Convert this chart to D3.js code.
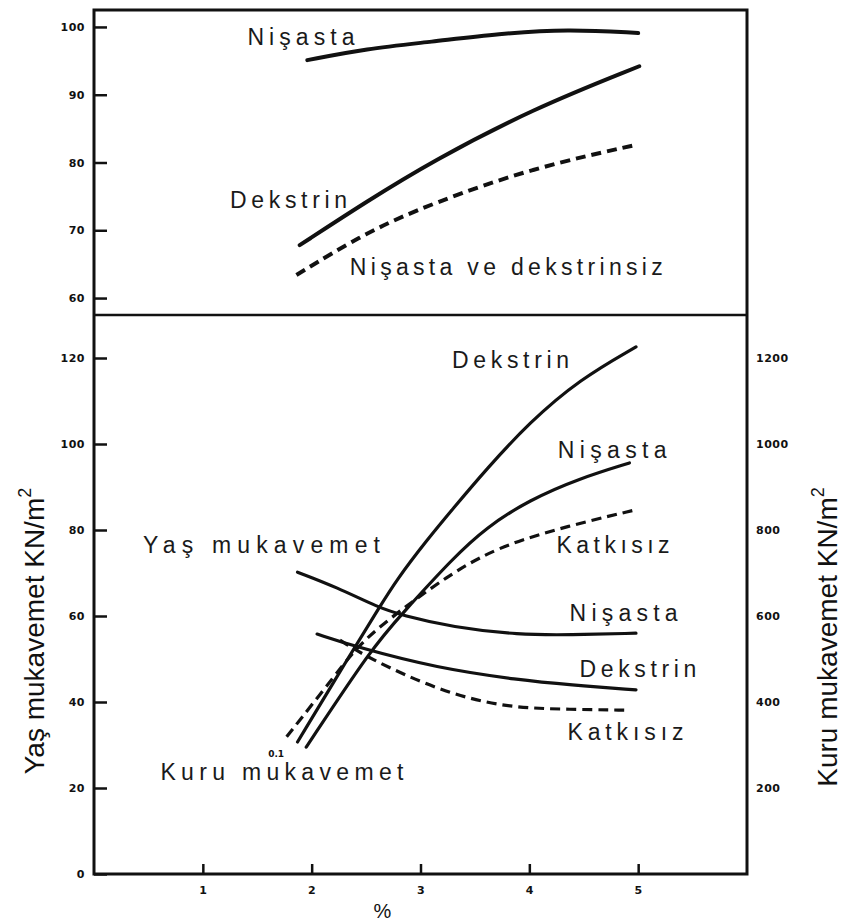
<!DOCTYPE html>
<html><head><meta charset="utf-8">
<script src="https://cdn.jsdelivr.net/npm/d3@7"></script>
<style>body{margin:0;background:#fff}svg{display:block}</style>
</head><body>
<svg id="c" width="845" height="923"></svg>
<script>
// ---- tick labels ----
const xTicks = [1, 2, 3, 4, 5];
const topTicks = [60, 70, 80, 90, 100];
const leftTicks = [0, 20, 40, 60, 80, 100, 120];
const rightTicks = [200, 400, 600, 800, 1000, 1200];

// ---- top panel series: [%, value] ----
const topNisasta = [[1.96, 95.1], [2.5, 96.8], [3.1, 97.8], [3.72, 99.0], [4.35, 99.7], [5.0, 99.1]];
const topDekstrin = [[1.89, 67.8], [2.5, 74.2], [3.11, 80.2], [4.03, 87.9], [5.01, 94.2]];
const topKatkisiz = [[1.86, 63.4], [2.5, 69.7], [3.11, 74.0], [4.03, 79.2], [4.98, 82.6]];

// ---- bottom panel: Kuru mukavemet (right axis) ----
const kuruDekstrin = [[1.87, 307], [2.38, 521], [2.62, 619], [2.78, 684], [3.06, 777], [3.3, 850], [3.6, 940], [4.0, 1050], [4.46, 1150], [4.98, 1226]];
const kuruNisasta = [[1.95, 295], [2.56, 528], [2.83, 605], [3.3, 735], [3.6, 805], [4.0, 870], [4.46, 920], [4.92, 956]];
const kuruKatkisiz = [[1.77, 319], [2.23, 467], [2.47, 545], [2.93, 635], [3.24, 690], [3.54, 737], [3.91, 777], [4.46, 816], [4.98, 847]];

// ---- bottom panel: Yaş mukavemet (left axis) ----
const yasNisasta = [[1.87, 70.2], [2.23, 66.7], [2.62, 61.9], [2.83, 60.2], [3.29, 57.4], [3.91, 55.6], [4.37, 55.6], [4.98, 56.0]];
const yasDekstrin = [[2.05, 55.8], [2.41, 52.8], [3.15, 47.9], [3.91, 45.1], [4.37, 44.0], [4.98, 42.8]];
const yasKatkisiz = [[2.26, 54.4], [2.5, 50.5], [3.15, 42.8], [3.75, 38.8], [4.3, 38.3], [4.92, 38.1]];

const svg = d3.select("#c");
const L = 94, R = 747, T = 10, MID = 315, B = 874;

const x = d3.scaleLinear([0, 6], [L, R]);
const yTop = d3.scaleLinear([57.5, 102.5], [MID, T]);
const yLeft = d3.scaleLinear([0, 130], [B, MID]);
const yRight = d3.scaleLinear([0, 1300], [B, MID]);

const fmt = d3.format("d");
const tickFont = g => g.selectAll("text")
  .attr("font-family", "'DejaVu Sans', sans-serif")
  .attr("font-weight", "bold").attr("font-size", 11)
  .attr("letter-spacing", 0.5).attr("fill", "#111");

// frame
svg.append("rect").attr("x", L).attr("y", T).attr("width", R - L).attr("height", B - T)
  .attr("fill", "none").attr("stroke", "#111").attr("stroke-width", 3);
svg.append("line").attr("x1", L).attr("x2", R).attr("y1", MID).attr("y2", MID)
  .attr("stroke", "#111").attr("stroke-width", 2.5);

// axes
const axTop = svg.append("g").attr("transform", `translate(${L},0)`)
  .call(d3.axisLeft(yTop).tickValues(topTicks).tickFormat(fmt).tickSize(-13).tickPadding(9));
const axLeft = svg.append("g").attr("transform", `translate(${L},0)`)
  .call(d3.axisLeft(yLeft).tickValues(leftTicks).tickFormat(fmt).tickSize(-13).tickPadding(9));
const axRight = svg.append("g").attr("transform", `translate(${R},0)`)
  .call(d3.axisRight(yRight).tickValues(rightTicks).tickFormat(fmt).tickSize(0).tickPadding(9));
const axX = svg.append("g").attr("transform", `translate(0,${B})`)
  .call(d3.axisBottom(x).tickValues(xTicks).tickFormat(fmt).tickSize(-10).tickPadding(12));
[axTop, axLeft, axRight, axX].forEach(a => {
  a.select(".domain").remove();
  a.selectAll(".tick line").attr("stroke", "#111").attr("stroke-width", 2.5);
  a.call(tickFont);
});

// curves
function draw(data, yScale, dashed, w) {
  const line = d3.line().x(d => x(d[0])).y(d => yScale(d[1])).curve(d3.curveBasis);
  svg.append("path").datum(data).attr("d", line)
    .attr("fill", "none").attr("stroke", "#111").attr("stroke-width", w)
    .attr("stroke-linecap", dashed ? "butt" : "round")
    .attr("stroke-dasharray", dashed ? "10,6" : null);
}
draw(topNisasta, yTop, false, 4);
draw(topDekstrin, yTop, false, 4);
draw(topKatkisiz, yTop, true, 4);
draw(kuruDekstrin, yRight, false, 3.2);
draw(kuruNisasta, yRight, false, 3.2);
draw(kuruKatkisiz, yRight, true, 3.2);
draw(yasNisasta, yLeft, false, 3.2);
draw(yasDekstrin, yLeft, false, 3.2);
draw(yasKatkisiz, yLeft, true, 3.2);

// curve labels (anchored in data units)
const topLabels = [
  {t: "Nişasta", x: 1.41, y: 97.3, w: 107},
  {t: "Dekstrin", x: 1.25, y: 73.3, w: 117},
  {t: "Nişasta ve dekstrinsiz", x: 2.35, y: 63.4, w: 313}
];
const bottomLabels = [
  {t: "Dekstrin", x: 3.29, y: 117.7, w: 117},
  {t: "Nişasta", x: 4.26, y: 96.7, w: 109},
  {t: "Katkısız", x: 4.25, y: 74.7, w: 113},
  {t: "Yaş mukavemet", x: 0.45, y: 74.7, w: 237},
  {t: "Nişasta", x: 4.37, y: 58.8, w: 108},
  {t: "Dekstrin", x: 4.46, y: 45.8, w: 117},
  {t: "Katkısız", x: 4.35, y: 31.2, w: 116},
  {t: "Kuru mukavemet", x: 0.61, y: 21.9, w: 243}
];
function labels(arr, yScale) {
  svg.append("g").selectAll("text").data(arr).join("text")
    .attr("x", d => x(d.x)).attr("y", d => yScale(d.y))
    .attr("textLength", d => d.w).attr("lengthAdjust", "spacing")
    .attr("font-family", "'Liberation Sans', Arial, sans-serif")
    .attr("font-size", 23).attr("fill", "#1a1a1a").text(d => d.t);
}
labels(topLabels, yTop);
labels(bottomLabels, yLeft);

svg.append("text").attr("x", x(1.6)).attr("y", yLeft(27.2))
  .attr("font-family", "'DejaVu Sans', sans-serif").attr("font-weight", "bold")
  .attr("font-size", 9).attr("fill", "#111").text("0.1");

// axis titles
svg.append("text").attr("x", x(2.65)).attr("y", 918).attr("text-anchor", "middle")
  .attr("font-family", "'Liberation Sans', Arial, sans-serif").attr("font-size", 20)
  .attr("fill", "#111").text("%");

function vTitle(txt, cx, cy) {
  const t = svg.append("text").attr("transform", `translate(${cx},${cy}) rotate(-90)`)
    .attr("text-anchor", "middle")
    .attr("font-family", "'Liberation Sans', Arial, sans-serif").attr("font-size", 28).attr("fill", "#111");
  t.append("tspan").text(txt);
  t.append("tspan").attr("font-size", 18).attr("dy", -13).text("2");
}
vTitle("Yaş mukavemet KN/m", 44, 631);
vTitle("Kuru mukavemet KN/m", 837, 637);
</script>
</body></html>
